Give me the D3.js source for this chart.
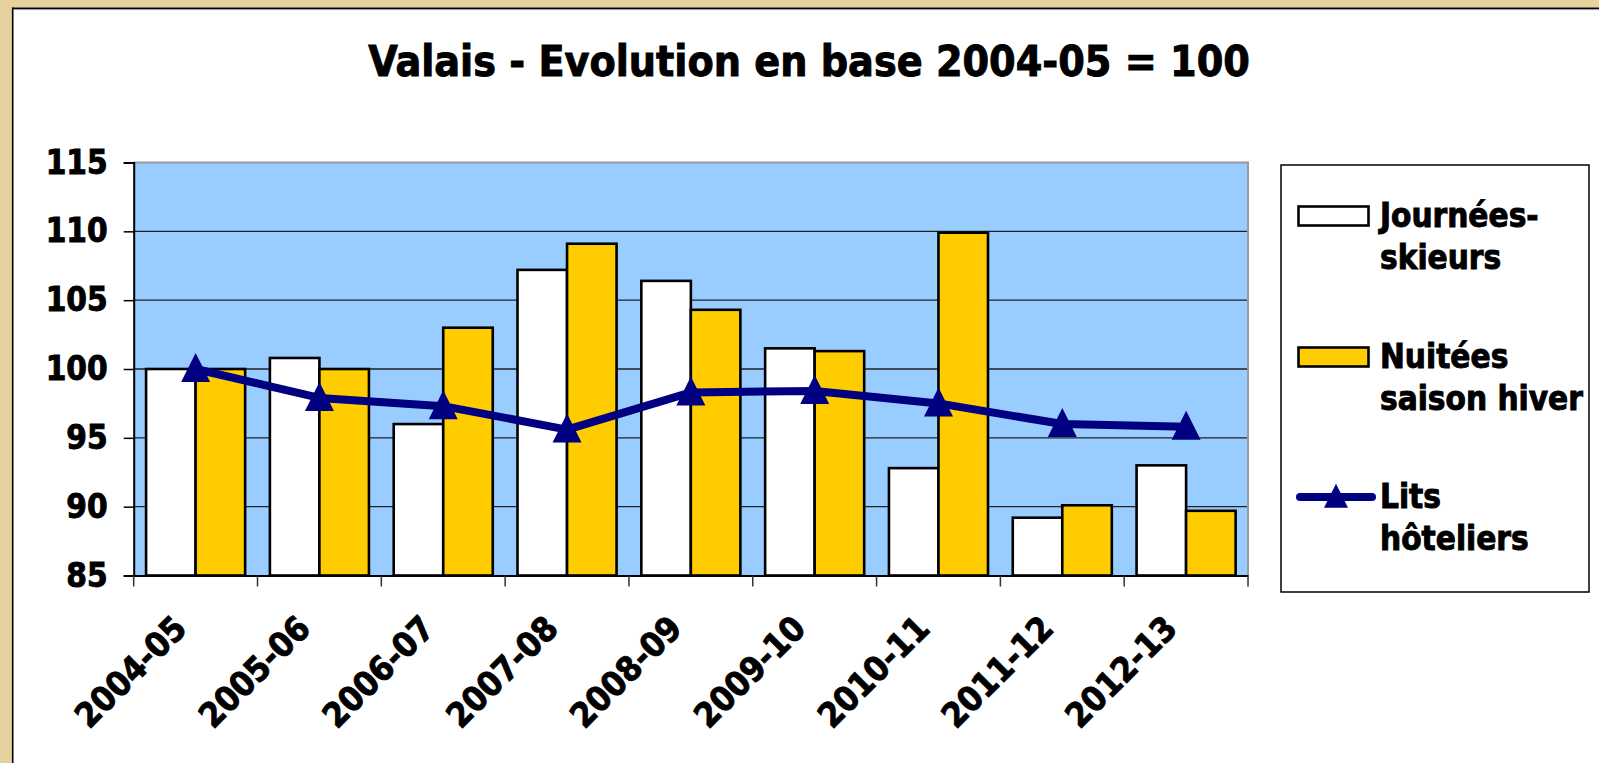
<!DOCTYPE html>
<html>
<head>
<meta charset="utf-8">
<script src="https://cdn.jsdelivr.net/npm/d3@7"></script>
<style>
  html, body { margin: 0; padding: 0; background: #fff; overflow: hidden; }
  svg { display: block; }
  text { font-family: "DejaVu Sans Condensed", "DejaVu Sans", sans-serif; font-weight: bold; fill: #000; stroke: #000; stroke-width: 0.9px; }
</style>
</head>
<body>
<svg id="chart"></svg>
<script>
// data (base 2004-05 = 100)
var seasons = ["2004-05", "2005-06", "2006-07", "2007-08", "2008-09", "2009-10", "2010-11", "2011-12", "2012-13"];
var journees = [100, 100.8, 96.0, 107.2, 106.4, 101.5, 92.8, 89.2, 93.0];
var nuitees = [100, 100, 103.0, 109.1, 104.3, 101.3, 109.9, 90.1, 89.7];
var lits = [100, 97.9, 97.3, 95.6, 98.3, 98.4, 97.5, 96.0, 95.8];
var yTicks = [85, 90, 95, 100, 105, 110, 115];
var legendLabels = [["Journées-", "skieurs"], ["Nuitées", "saison hiver"], ["Lits", "hôteliers"]];
var titleText = "Valais - Evolution en base 2004-05 = 100";

var W = 1599, H = 763;
var svg = d3.select("#chart").attr("width", W).attr("height", H);

// frame
svg.append("rect").attr("width", W).attr("height", H).attr("fill", "#e6d29c");
svg.append("rect").attr("x", 12).attr("y", 7.5).attr("width", W).attr("height", H).attr("fill", "#fff");
svg.append("line").attr("x1", 12).attr("x2", W).attr("y1", 8.3).attr("y2", 8.3).attr("stroke", "#000").attr("stroke-width", 1.6);
svg.append("line").attr("x1", 13).attr("x2", W).attr("y1", 9.6).attr("y2", 9.6).attr("stroke", "#999").attr("stroke-width", 1);
svg.append("line").attr("x1", 12.7).attr("x2", 12.7).attr("y1", 7.5).attr("y2", H).attr("stroke", "#000").attr("stroke-width", 1.6);

svg.append("text")
    .attr("x", 809).attr("y", 76)
    .attr("text-anchor", "middle")
    .style("font-size", "42.5px")
    .text(titleText);

var plot = { left: 133.7, right: 1248, top: 162.5, bottom: 575.5 };

var x = d3.scaleBand().domain(seasons).range([plot.left, plot.right]);
var xs = d3.scaleBand().domain([0, 1]).range([0, x.bandwidth()]).paddingOuter(0.25);
var y = d3.scaleLinear().domain([85, 115]).range([plot.bottom, plot.top]);

var g = svg.append("g");

g.append("rect")
    .attr("x", plot.left).attr("y", plot.top)
    .attr("width", plot.right - plot.left).attr("height", plot.bottom - plot.top)
    .attr("fill", "#99ccff");

// gridlines
g.selectAll(".grid")
    .data(yTicks.filter(function (d) { return d > 85 && d < 115; }))
    .enter().append("line")
    .attr("class", "grid")
    .attr("x1", plot.left).attr("x2", plot.right)
    .attr("y1", function (d) { return y(d); }).attr("y2", function (d) { return y(d); })
    .attr("stroke", "#222").attr("stroke-width", 1.3);

// grey border top / right
g.append("path")
    .attr("d", "M" + plot.left + "," + plot.top + "H" + plot.right + "V" + plot.bottom)
    .attr("fill", "none").attr("stroke", "#999").attr("stroke-width", 2);

// bars
var series = [
    { values: journees, fill: "#ffffff" },
    { values: nuitees, fill: "#ffcc00" }
];
series.forEach(function (s, k) {
    g.selectAll(".bar" + k)
        .data(s.values)
        .enter().append("rect")
        .attr("class", "bar" + k)
        .attr("x", function (d, i) { return x(seasons[i]) + xs(k); })
        .attr("y", function (d) { return y(d); })
        .attr("width", xs.bandwidth())
        .attr("height", function (d) { return y(85) - y(d); })
        .attr("fill", s.fill)
        .attr("stroke", "#000")
        .attr("stroke-width", 2.6);
});

// axes
var yAxis = g.append("g")
    .attr("transform", "translate(" + plot.left + ",0)")
    .call(d3.axisLeft(y).tickValues(yTicks).tickSize(10).tickPadding(16));
yAxis.select(".domain").attr("stroke", "#000").attr("stroke-width", 2);
yAxis.selectAll(".tick line").attr("stroke", "#000").attr("stroke-width", 1.5);
yAxis.selectAll("text")
    .style("font-size", "33px")
    .style("font-family", null)
    .attr("fill", "#000");

var xAxis = g.append("g")
    .attr("transform", "translate(0," + plot.bottom + ")")
    .call(d3.axisBottom(x).tickSize(0).tickFormat(""));
xAxis.select(".domain").attr("stroke", "#000").attr("stroke-width", 2);

// category separator ticks
g.selectAll(".xtick")
    .data(seasons.concat(["end"]))
    .enter().append("line")
    .attr("class", "xtick")
    .attr("x1", function (d, i) { return plot.left + i * x.step(); })
    .attr("x2", function (d, i) { return plot.left + i * x.step(); })
    .attr("y1", plot.bottom).attr("y2", plot.bottom + 11)
    .attr("stroke", "#333").attr("stroke-width", 1.5);

g.selectAll(".xlabel")
    .data(seasons)
    .enter().append("text")
    .attr("class", "xlabel")
    .attr("text-anchor", "end")
    .attr("transform", function (d) {
        return "translate(" + (x(d) + x.bandwidth() / 2 - 7) + "," + (plot.bottom + 55) + ") rotate(-45)";
    })
    .style("font-size", "34px")
    .text(function (d) { return d; });

// line series
var line = d3.line()
    .x(function (d, i) { return x(seasons[i]) + x.bandwidth() / 2; })
    .y(function (d) { return y(d); });

g.append("path")
    .datum(lits)
    .attr("d", line)
    .attr("fill", "none")
    .attr("stroke", "#000080")
    .attr("stroke-width", 8)
    .attr("stroke-linejoin", "round");

var tri = function (s) { return "M0," + (-s * 0.55) + "L" + (s / 2) + "," + (s * 0.45) + "L" + (-s / 2) + "," + (s * 0.45) + "Z"; };

g.selectAll(".marker")
    .data(lits)
    .enter().append("path")
    .attr("class", "marker")
    .attr("transform", function (d, i) { return "translate(" + (x(seasons[i]) + x.bandwidth() / 2) + "," + y(d) + ")"; })
    .attr("d", tri(29))
    .attr("fill", "#000080");

// legend
var lg = svg.append("g");
lg.append("rect")
    .attr("x", 1281).attr("y", 165)
    .attr("width", 308).attr("height", 427)
    .attr("fill", "#fff").attr("stroke", "#000").attr("stroke-width", 1.5);

var legendY = [216, 357, 497];
lg.append("rect").attr("x", 1298.5).attr("y", legendY[0] - 9.5).attr("width", 70).attr("height", 19)
    .attr("fill", "#fff").attr("stroke", "#000").attr("stroke-width", 2.6);
lg.append("rect").attr("x", 1298.5).attr("y", legendY[1] - 9.5).attr("width", 70).attr("height", 19)
    .attr("fill", "#ffcc00").attr("stroke", "#000").attr("stroke-width", 2.6);
lg.append("line").attr("x1", 1300).attr("x2", 1372).attr("y1", legendY[2]).attr("y2", legendY[2])
    .attr("stroke", "#000080").attr("stroke-width", 8).attr("stroke-linecap", "round");
lg.append("path").attr("transform", "translate(1336," + legendY[2] + ")").attr("d", tri(24)).attr("fill", "#000080");

legendLabels.forEach(function (lines, i) {
    var t = lg.append("text")
        .attr("x", 1380)
        .attr("y", legendY[i] + 11)
        .style("font-size", "33px");
    lines.forEach(function (s, j) {
        t.append("tspan").attr("x", 1380).attr("dy", j ? 42 : 0).text(s);
    });
});
</script>
</body>
</html>
